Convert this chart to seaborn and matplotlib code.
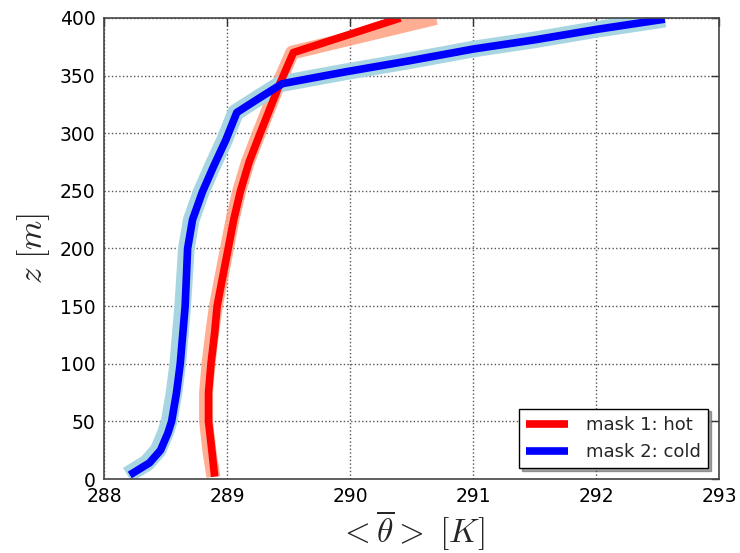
import matplotlib
matplotlib.use("Agg")
import matplotlib.pyplot as plt
import seaborn as sns
import numpy as np

# hot mask (red) profile
hot_z = [2, 22, 50, 75, 100, 127, 150, 178, 200, 225, 250, 275, 300, 343, 370, 400]
hot_theta = [288.90, 288.88, 288.85, 288.85, 288.87, 288.90, 288.92, 288.97, 289.01,
             289.055, 289.11, 289.18, 289.27, 289.43, 289.54, 290.41]
# hot mask companion (light salmon) profile
hot2_theta = [288.89, 288.86, 288.83, 288.83, 288.85, 288.88, 288.91, 288.96, 289.00,
              289.045, 289.10, 289.17, 289.26, 289.42, 289.53, 290.70]

# cold mask (blue) profile
cold_z = [3.5, 14, 25, 40, 50, 75, 100, 150, 200, 225, 249, 271, 294, 318, 331, 343,
          353, 363, 373, 381, 390, 399]
cold_theta = [288.21, 288.37, 288.46, 288.52, 288.55, 288.59, 288.62, 288.66, 288.68,
              288.72, 288.80, 288.89, 288.99, 289.08, 289.27, 289.45, 289.95, 290.49,
              291.00, 291.50, 292.00, 292.56]
# cold mask companion (light blue) profile
cold2_theta = [288.19, 288.35, 288.44, 288.50, 288.53, 288.57, 288.60, 288.64, 288.67,
               288.71, 288.79, 288.88, 288.98, 289.07, 289.26, 289.44, 289.95, 290.49,
               291.00, 291.50, 292.00, 292.56]

labels = ["mask 1: hot", "mask 2: cold"]

sns.set_style("white")
plt.rcParams["mathtext.fontset"] = "cm"
plt.rcParams["font.family"] = ["DejaVu Sans"]

fig = plt.figure(figsize=(7.4, 5.53), dpi=100)
ax = fig.add_axes([0.1405, 0.1338, 0.8311, 0.8337])

sns.lineplot(x=hot2_theta, y=hot_z, orient="y", color="#ff9f80", lw=10, alpha=0.85,
             ax=ax, solid_capstyle="butt")
sns.lineplot(x=cold2_theta, y=cold_z, orient="y", color="#a8d5e2", lw=12, ax=ax,
             solid_capstyle="butt")
sns.lineplot(x=hot_theta, y=hot_z, orient="y", color="red", lw=5.5, ax=ax,
             label=labels[0], solid_capstyle="butt")
sns.lineplot(x=cold_theta, y=cold_z, orient="y", color="blue", lw=5.5, ax=ax,
             label=labels[1], solid_capstyle="butt")

ax.set_xlim(288, 293)
ax.set_ylim(0, 400)
ax.set_xticks([288, 289, 290, 291, 292, 293])
ax.set_yticks(np.arange(0, 401, 50))
ax.grid(True, linestyle=":", color="#555555", lw=1)
ax.tick_params(direction="in", length=6, width=1, labelsize=13.5, top=True, right=True,
               colors="#333333", labelcolor="black", pad=6)
for s in ax.spines.values():
    s.set_color("#444444")
    s.set_linewidth(1.2)

ax.set_xlabel(r"$<\overline{\theta}>\ [K]$", fontsize=24, labelpad=2)
ax.set_ylabel(r"$z\ [m]$", fontsize=24, labelpad=6)

leg = ax.legend(loc="lower right", fontsize=13, frameon=True, fancybox=False, shadow=True,
                handlelength=2.3, borderaxespad=0.6, handletextpad=1.0)
leg.get_frame().set_edgecolor("black")
leg.get_frame().set_linewidth(1.0)

fig.savefig("out.png", dpi=100)
